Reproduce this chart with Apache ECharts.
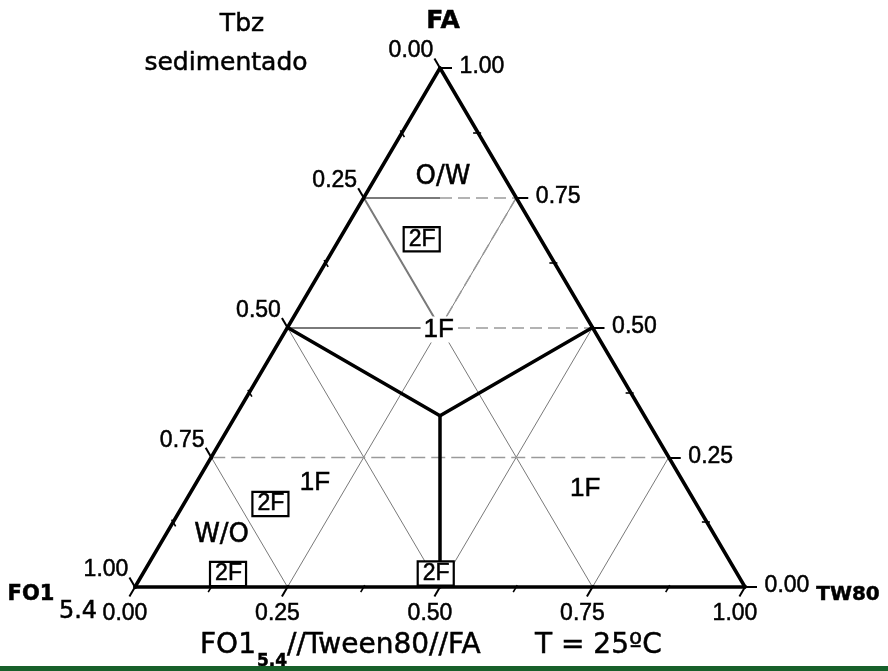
<!DOCTYPE html>
<html>
<head>
<meta charset="utf-8">
<script src="https://cdn.jsdelivr.net/npm/echarts@6/dist/echarts.min.js"></script>
<style>
html,body{margin:0;padding:0;background:#fff;}
#chart{width:888px;height:671px;}
</style>
</head>
<body>
<div id="chart"></div>
<script>
// ---------- DATA (ternary compositions are [FO1, Tween80, FA]) ----------
const tickValues = [0, 0.25, 0.5, 0.75, 1];
const tickLabels = ['0.00', '0.25', '0.50', '0.75', '1.00'];
const minorTickValues = [0.125, 0.375, 0.625, 0.875];
const gridLevels = [0.25, 0.5, 0.75];

// phase boundary (thick lines), meeting at a common point
const boundaryJunction = [0.335, 0.335, 0.33];
const boundaryEnds = [[0.5, 0, 0.5], [0, 0.5, 0.5], [0.5, 0.5, 0]];

// emphasised grid pieces in the upper region
const upperSolid = [
  [[0.25, 0, 0.75], [0.125, 0.125, 0.75]],
  [[0.5, 0, 0.5], [0.25, 0.25, 0.5]],
  [[0.25, 0, 0.75], [0.25, 0.25, 0.5]]
];
const upperDashed = [
  [[0.125, 0.125, 0.75], [0, 0.25, 0.75]],
  [[0, 0.25, 0.75], [0.25, 0.25, 0.5]],
  [[0.25, 0.25, 0.5], [0, 0.5, 0.5]]
];

// region labels
const plainLabels = [
  { text: 'O/W', comp: [0.10, 0.11, 0.79] },
  { text: 'W/O', comp: [0.808, 0.092, 0.10] }
];
const oneFLabels = [
  { text: '1F', comp: [0.605, 0.195, 0.20] },
  { text: '1F', comp: [0.167, 0.643, 0.19] }
];
const centerLabel = { text: '1F', comp: [0.254, 0.25, 0.496] };
const boxedLabels = [
  { text: '2F', comp: [0.195, 0.135, 0.67] },
  { text: '2F', comp: [0.698, 0.142, 0.16] },
  { text: '2F', comp: [0.835, 0.14, 0.025] },
  { text: '2F', comp: [0.494, 0.48, 0.026] }
];

// ---------- helpers ----------
const GX = 135, GY = 68, GW = 610, GH = 519;   // plot frame in pixels
function toXY(c) { return [c[1] + c[2] / 2, c[2]]; }
function seg(a, b) { return { coords: [toXY(a), toXY(b)] }; }

function tickSeg(p, d, outPx, inPx) {
  const len = Math.sqrt((d[0] * GW) ** 2 + (d[1] * GH) ** 2);
  const ux = d[0] / len, uy = d[1] / len;
  return { coords: [[p[0] - ux * inPx, p[1] - uy * inPx], [p[0] + ux * outPx, p[1] + uy * outPx]] };
}
// axes: base = Tween80 (left->right), right = FA (bottom->top), left = FO1 (top->bottom)
const baseDir = [-0.5, -1], rightDir = [1, 0], leftDir = [-0.5, 1];
function basePt(t) { return toXY([1 - t, t, 0]); }
function rightPt(f) { return toXY([0, 1 - f, f]); }
function leftPt(v) { return toXY([v, 0, 1 - v]); }

// ---------- build line sets ----------
const outline = [seg([1, 0, 0], [0, 1, 0]), seg([0, 1, 0], [0, 0, 1]), seg([0, 0, 1], [1, 0, 0])];
const boundary = boundaryEnds.map(e => seg(e, boundaryJunction));

const gridThin = [];
const gridDashed = [];
gridLevels.forEach(l => {
  gridThin.push(seg([l, 1 - l, 0], [l, 0, 1 - l]));   // FO = l
  gridThin.push(seg([1 - l, l, 0], [0, l, 1 - l]));   // TW = l
});
gridDashed.push(seg([0.75, 0, 0.25], [0, 0.75, 0.25])); // FA = 0.25

const majorTicks = [];
const minorTicks = [];
tickValues.forEach(v => {
  majorTicks.push(tickSeg(basePt(v), baseDir, 11, 2));
  majorTicks.push(tickSeg(rightPt(v), rightDir, 12, 0));
  majorTicks.push(tickSeg(leftPt(v), leftDir, 11, 2));
});
minorTickValues.forEach(v => {
  minorTicks.push(tickSeg(basePt(v), baseDir, 6, 2));
  minorTicks.push(tickSeg(rightPt(v), rightDir, 3, 5));
  minorTicks.push(tickSeg(leftPt(v), leftDir, 3, 5));
});

const tickFont = 'Liberation Sans, Arial, sans-serif';
const heavy = { textBorderColor: '#000', textBorderWidth: 0.5 };
function tickLabelSeries(ptFn, offset) {
  return {
    type: 'scatter', symbolSize: 0, clip: false, silent: true, z: 10,
    itemStyle: { opacity: 1 },
    data: tickValues.map((v, i) => ({ value: ptFn(v), name: tickLabels[i] })),
    label: Object.assign({ show: true, position: 'inside', formatter: p => p.name, offset: offset,
      color: '#000', opacity: 1, fontSize: 23, fontFamily: tickFont }, heavy)
  };
}
function textSeries(items, lbl, z) {
  return {
    type: 'scatter', symbolSize: 0, clip: false, silent: true, z: z || 10,
    itemStyle: { opacity: 1 },
    data: items.map(it => ({ value: toXY(it.comp), name: it.text })),
    label: Object.assign({ show: true, position: 'inside', formatter: p => p.name, color: '#000', opacity: 1 }, heavy, lbl)
  };
}
function linesSeries(data, style, z) {
  return { type: 'lines', coordinateSystem: 'cartesian2d', clip: false, silent: true, z: z || 2,
    data: data, lineStyle: style, symbol: 'none' };
}
function txt(x, y, text, font, align, extra) {
  return { type: 'text', x: x, y: y, style: Object.assign({ text: text, font: font, fill: '#000',
    stroke: '#000', lineWidth: 0.5, textAlign: align || 'center', textVerticalAlign: 'middle' }, extra || {}) };
}

const chart = echarts.init(document.getElementById('chart'), null, { renderer: 'canvas' });
chart.setOption({
  animation: false,
  backgroundColor: '#ffffff',
  grid: { left: GX, top: GY, width: GW, height: GH, containLabel: false },
  xAxis: { type: 'value', min: 0, max: 1, show: false },
  yAxis: { type: 'value', min: 0, max: 1, show: false },
  series: [
    linesSeries(gridThin, { color: '#6a6a6a', width: 0.9, opacity: 1 }, 1),
    linesSeries(gridDashed, { color: '#9a9a9a', width: 1.3, type: [14, 6], opacity: 1 }, 1),
    linesSeries(upperDashed.map(s => seg(s[0], s[1])), { color: '#9a9a9a', width: 1.5, type: [12, 6], opacity: 1 }, 2),
    linesSeries(upperSolid.map(s => seg(s[0], s[1])), { color: '#7a7a7a', width: 2, opacity: 1 }, 3),
    linesSeries(boundary, { color: '#000', width: 3.5, cap: 'round', join: 'round', opacity: 1 }, 4),
    linesSeries(outline, { color: '#000', width: 3.5, cap: 'round', opacity: 1 }, 5),
    linesSeries(majorTicks, { color: '#000', width: 2, opacity: 1 }, 5),
    linesSeries(minorTicks, { color: '#000', width: 1.6, opacity: 1 }, 5),
    tickLabelSeries(basePt, [-10, 27]),
    tickLabelSeries(rightPt, [42, -1]),
    tickLabelSeries(leftPt, [-29, -17]),
    textSeries(plainLabels, { fontSize: 26, fontFamily: 'DejaVu Sans, sans-serif' }),
    textSeries(oneFLabels, { fontSize: 26, fontFamily: 'Liberation Sans, Arial, sans-serif' }),
    textSeries([centerLabel], { fontSize: 26, fontFamily: 'Liberation Sans, Arial, sans-serif',
      backgroundColor: '#fff', padding: [0, 3, 0, 3] }, 11),
    textSeries(boxedLabels, { fontSize: 23, fontFamily: 'Liberation Sans, Arial, sans-serif',
      backgroundColor: '#fff', borderColor: '#000', borderWidth: 2.2, padding: [1, 3, 0, 4], lineHeight: 21 }, 12)
  ],
  graphic: [
    txt(242, 24, 'Tbz', '25px "DejaVu Sans", sans-serif'),
    txt(226, 63, 'sedimentado', '25px "DejaVu Sans", sans-serif'),
    txt(443, 21, 'FA', 'bold 25px "DejaVu Sans", sans-serif'),
    txt(31, 595, 'FO1', 'bold 21px "DejaVu Sans", sans-serif'),
    txt(78, 612, '5.4', '24px "DejaVu Sans", sans-serif'),
    txt(848, 595, 'TW80', 'bold 20px "DejaVu Sans", sans-serif'),
    txt(200, 646, 'FO1', '28px "DejaVu Sans", sans-serif', 'left'),
    txt(257, 662, '5.4', 'bold 17px "DejaVu Sans", sans-serif', 'left'),
    txt(287, 646, '//Tween80//FA', '28px "DejaVu Sans", sans-serif', 'left'),
    txt(535, 646, 'T = 25ºC', '28px "DejaVu Sans", sans-serif', 'left'),
    { type: 'rect', shape: { x: 0, y: 666, width: 888, height: 5 }, style: { fill: '#17602a' }, z: 0 }
  ]
});
</script>
</body>
</html>
